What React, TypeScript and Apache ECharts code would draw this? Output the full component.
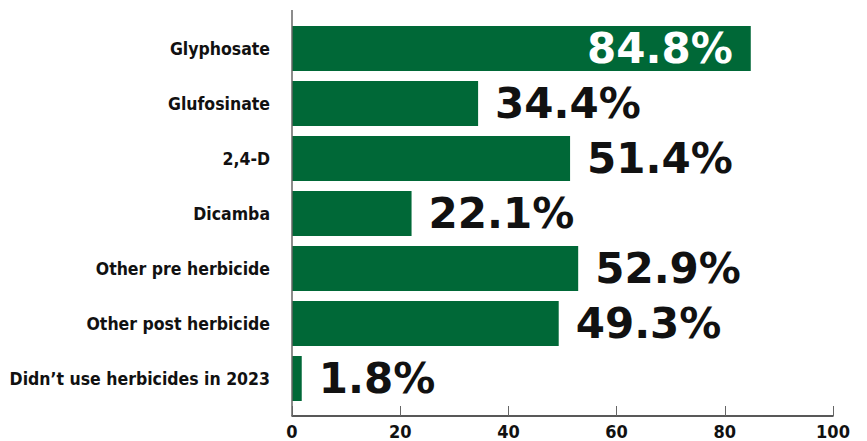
import React, { useEffect, useRef } from "react";
import * as echarts from "echarts";

const categories = [
  "Glyphosate",
  "Glufosinate",
  "2,4-D",
  "Dicamba",
  "Other pre herbicide",
  "Other post herbicide",
  "Didn\u2019t use herbicides in 2023",
];
const values = [84.8, 34.4, 51.4, 22.1, 52.9, 49.3, 1.8];
const insideLabelIndex = [0];
const xTicks = [0, 20, 40, 60, 80, 100];

const GREEN = "#006837";
const CAT_FONT = "'Liberation Sans Narrow', 'DejaVu Sans Condensed', 'Roboto', sans-serif";
const VAL_FONT = "'DejaVu Sans', 'Open Sans', sans-serif";

export default function App() {
  const ref = useRef<HTMLDivElement>(null);
  useEffect(() => {
    if (!ref.current) return;
    const chart = echarts.init(ref.current, null, { renderer: "svg" });
    const gridLeft = 292;
    const gridTop = 21;
    const gridHeight = 385;
    chart.setOption({
      animation: false,
      grid: {
        left: gridLeft,
        right: 34,
        top: gridTop,
        height: gridHeight,
        containLabel: false,
        outerBoundsMode: "none",
      },
      xAxis: {
        type: "value",
        min: xTicks[0],
        max: xTicks[xTicks.length - 1],
        interval: 20,
        offset: 10,
        axisLine: { show: true, lineStyle: { color: "#222", width: 1.5 } },
        axisTick: { show: true, inside: true, length: 10, lineStyle: { color: "#666", width: 1 } },
        splitLine: { show: false },
        axisLabel: {
          color: "#111",
          fontFamily: CAT_FONT,
          fontWeight: "bold",
          fontSize: 18,
          margin: 6,
        },
      },
      yAxis: {
        type: "category",
        data: categories,
        inverse: true,
        axisLine: { show: false },
        axisTick: { show: false },
        axisLabel: {
          color: "#111",
          fontFamily: CAT_FONT,
          fontWeight: "bold",
          fontSize: 17.5,
          margin: 22,
        },
      },
      graphic: [
        {
          type: "line",
          shape: { x1: gridLeft, y1: 10, x2: gridLeft, y2: gridTop + gridHeight + 10 },
          style: { stroke: "#666", lineWidth: 1.5 },
          z: 10,
        },
      ],
      series: [
        {
          type: "bar",
          barWidth: 45,
          itemStyle: { color: GREEN },
          data: values.map((v, i) => {
            const inside = insideLabelIndex.includes(i);
            return {
              value: v,
              label: {
                show: true,
                position: inside ? "insideRight" : "right",
                distance: inside ? 18 : 17,
                color: inside ? "#fff" : "#111",
                fontFamily: VAL_FONT,
                fontWeight: "bold",
                fontSize: 42,
                formatter: (p: any) => p.value.toFixed(1) + "%",
              },
            };
          }),
        },
      ],
    });
    return () => chart.dispose();
  }, []);
  return <div ref={ref} style={{ width: 867, height: 441, position: "absolute", left: 0, top: 0 }} />;
}
